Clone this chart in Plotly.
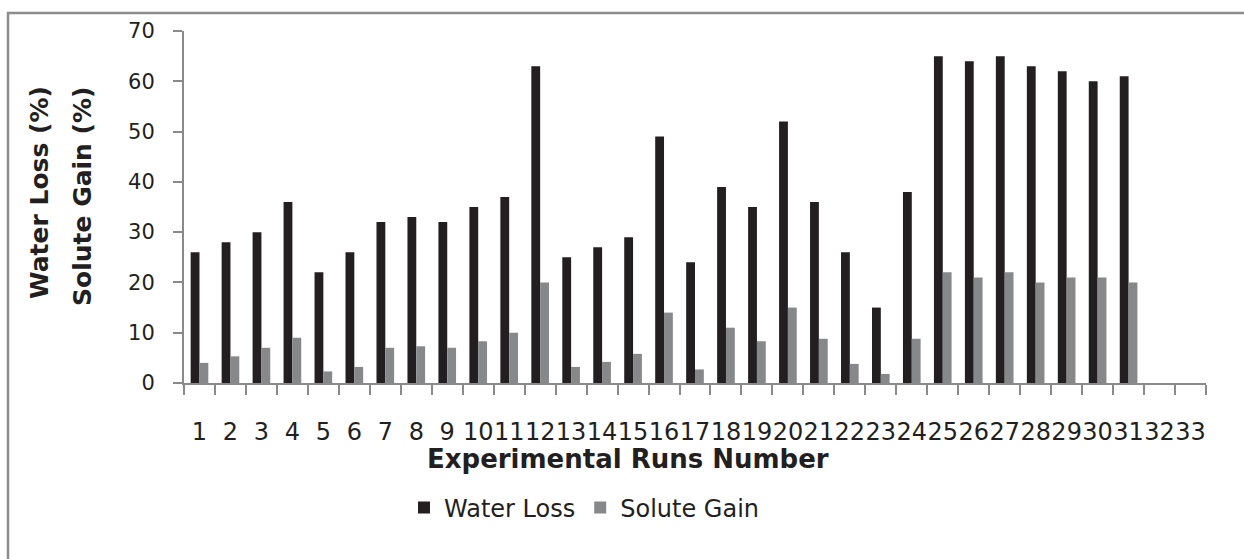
import plotly.graph_objects as go

# Experimental runs (the axis shows 33 slots, data recorded for runs 1-31)
runs = [str(i) for i in range(1, 34)]
measured_runs = [str(i) for i in range(1, 32)]

water_loss = [26, 28, 30, 36, 22, 26, 32, 33, 32, 35, 37, 63, 25, 27, 29, 49,
              24, 39, 35, 52, 36, 26, 15, 38, 65, 64, 65, 63, 62, 60, 61]
solute_gain = [4, 5.3, 7, 9, 2.3, 3.2, 7, 7.3, 7, 8.3, 10, 20, 3.2, 4.2, 5.8, 14,
               2.7, 11, 8.3, 15, 8.8, 3.8, 1.8, 8.8, 22, 21, 22, 20, 21, 21, 20]

y_ticks = [0, 10, 20, 30, 40, 50, 60, 70]

W, H = 1244, 559
ML, MR, MT, MB = 184, 38, 31, 176
PW, PH = W - ML - MR, H - MT - MB


def px(x):
    return (x - ML) / PW


def py(y):
    return (H - MB - y) / PH


DARK = "#231f20"
GREY = "#87888a"
AXIS = "#8a8a8a"
FONT = "DejaVu Sans"

fig = go.Figure()
fig.add_trace(go.Bar(x=measured_runs, y=water_loss, name="Water Loss",
                     marker=dict(color=DARK, line=dict(width=0))))
fig.add_trace(go.Bar(x=measured_runs, y=solute_gain, name="Solute Gain",
                     marker=dict(color=GREY, line=dict(width=0))))

fig.update_layout(
    width=W, height=H, autosize=False,
    margin=dict(l=ML, r=MR, t=MT, b=MB),
    paper_bgcolor="white", plot_bgcolor="white",
    barmode="group", bargap=0.43, bargroupgap=0,
    font=dict(family=FONT, color="#231f20"),
    showlegend=True,
    legend=dict(orientation="h", x=px(404), xanchor="left", y=py(508), yanchor="middle",
                font=dict(family=FONT, size=24, color="#231f20"),
                bgcolor="rgba(0,0,0,0)", traceorder="normal"),
)

fig.update_xaxes(
    type="category", categoryorder="array", categoryarray=runs,
    range=[-0.5, len(runs) - 0.5],
    showline=True, linecolor=AXIS, linewidth=2,
    ticks="outside", tickson="boundaries", ticklen=10, tickcolor=AXIS, tickwidth=2,
    tickangle=0,
    tickfont=dict(family=FONT, size=24, color="#231f20"),
    ticklabelstandoff=26,
    showgrid=False, zeroline=False,
)
fig.update_yaxes(
    range=[0, 70], tickvals=y_ticks, ticktext=[str(v) for v in y_ticks],
    showline=True, linecolor=AXIS, linewidth=2,
    ticks="outside", ticklen=9, tickcolor=AXIS, tickwidth=2,
    tickfont=dict(family=FONT, size=21, color="#231f20"),
    ticklabelstandoff=14,
    showgrid=False, zeroline=False,
)

# Axis titles
fig.add_annotation(text="<b>Experimental Runs Number</b>", xref="paper", yref="paper",
                   x=px(628), y=py(459), xanchor="center", yanchor="middle",
                   showarrow=False, font=dict(family=FONT, size=26, color="#231f20"))
fig.add_annotation(text="<b>Water Loss (%)</b>", xref="paper", yref="paper",
                   x=px(39), y=py(193), xanchor="center", yanchor="middle", textangle=-90,
                   showarrow=False, font=dict(family=FONT, size=25, color="#231f20"))
fig.add_annotation(text="<b>Solute Gain (%)</b>", xref="paper", yref="paper",
                   x=px(82), y=py(196), xanchor="center", yanchor="middle", textangle=-90,
                   showarrow=False, font=dict(family=FONT, size=25, color="#231f20"))

# Chart-area frame (runs past the right and bottom edges)
fig.add_shape(type="rect", xref="paper", yref="paper",
              x0=px(8), x1=px(W + 20), y0=py(13), y1=py(H + 20),
              line=dict(color="#8c8c8c", width=2.5), fillcolor="rgba(0,0,0,0)", layer="below")

fig.write_html("out.html")
